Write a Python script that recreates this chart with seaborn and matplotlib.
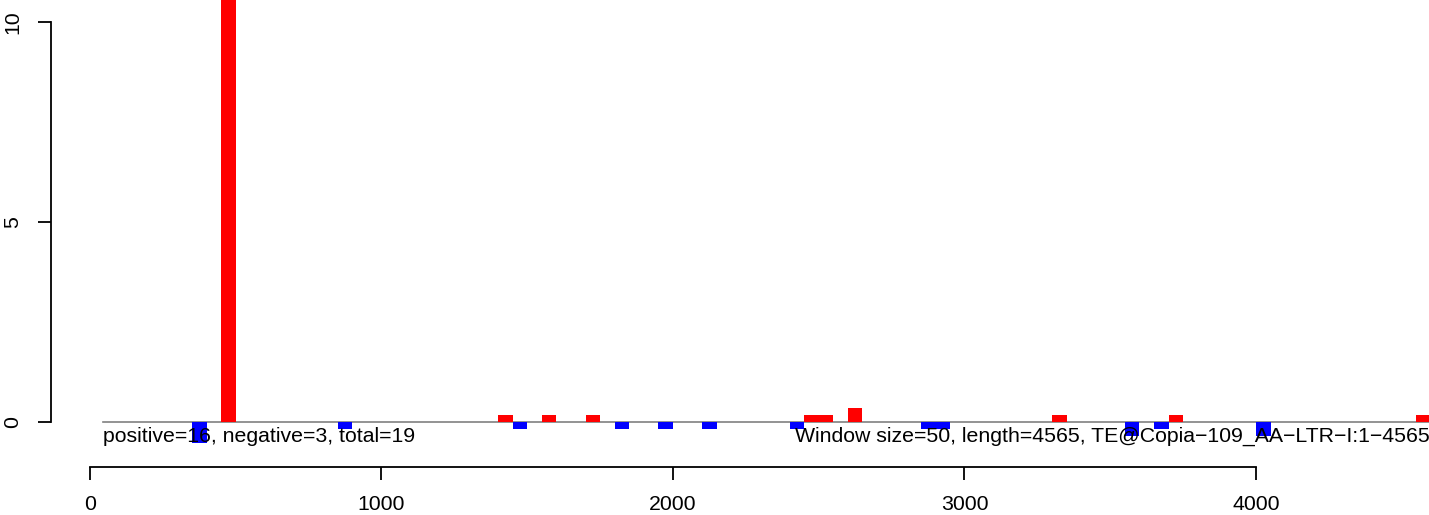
import pandas as pd
import seaborn as sns

from matplotlib import pyplot as plt

# window start (bp) and signed value per window
pos_start = [450, 1400, 1550, 1700, 2450, 2500, 2600, 3300, 3700, 4550]
pos_value = [12.0, 0.175, 0.175, 0.175, 0.175, 0.175, 0.35, 0.175, 0.175, 0.175]
neg_start = [350, 850, 1450, 1800, 1950, 2100, 2400, 2850, 2900, 3550, 3650, 4000]
neg_value = [-0.525, -0.175, -0.175, -0.175, -0.175, -0.175, -0.175, -0.175, -0.175, -0.35, -0.175, -0.35]

WINDOW  = 50
x_ticks = [0, 1000, 2000, 3000, 4000]
y_ticks = [0, 5, 10]

left_text  = "positive=16, negative=3, total=19"
right_text = "Window size=50, length=4565, TE@Copia\u2212109_AA\u2212LTR\u2212I:1\u22124565"

df = pd.concat([
    pd.DataFrame({'start': pos_start, 'value': pos_value, 'strand': '+'}),
    pd.DataFrame({'start': neg_start, 'value': neg_value, 'strand': '-'}),
])
df['mid'] = df['start'] + WINDOW/2

plt.rcParams['font.family'] = ['Liberation Sans', 'DejaVu Sans']
FS = 15.3

fig = plt.figure(figsize=(14.29, 5.15), dpi=100)
ax  = fig.add_axes([0, 0, 1, 1])
ax.patch.set_alpha(0)

sns.barplot(data=df, x='mid', y='value', hue='strand',
            palette={'+': '#FF0000', '-': '#0000FF'},
            native_scale=True, dodge=False, width=1, errorbar=None,
            saturation=1, linewidth=0, legend=False, ax=ax, zorder=2)

# zero line, starts at first window like the reference
ax.axhline(0, xmin=103/1429, color='#808080', lw=1.2, zorder=1)

ax.set_xlim(-308.7, 4593.5)
ax.set_ylim(-2.325, 10.55)
ax.set_xlabel('')
ax.set_ylabel('')

ax.spines['top'].set_visible(False)
ax.spines['right'].set_visible(False)
ax.spines['left'].set_position(('data', -134))
ax.spines['left'].set_bounds(0, 10)
ax.spines['bottom'].set_position(('data', -1.125))
ax.spines['bottom'].set_bounds(0, 4000)
for s in ['left', 'bottom']:
    ax.spines[s].set_linewidth(1.3)

ax.set_xticks(x_ticks)
ax.set_yticks(y_ticks)
ax.set_xticklabels([str(t) for t in x_ticks])
ax.set_yticklabels([str(t) for t in y_ticks])
ax.tick_params(length=9.4, width=1.3, labelsize=FS, pad=11, colors='black')
plt.setp(ax.get_yticklabels(), rotation=90, va='center')

ax.text(45, -0.5, left_text, ha='left', va='baseline', fontsize=FS, zorder=3)
ax.text(2418, -0.5, right_text, ha='left', va='baseline', fontsize=FS, zorder=3)

plt.savefig('out.png', dpi=100)
